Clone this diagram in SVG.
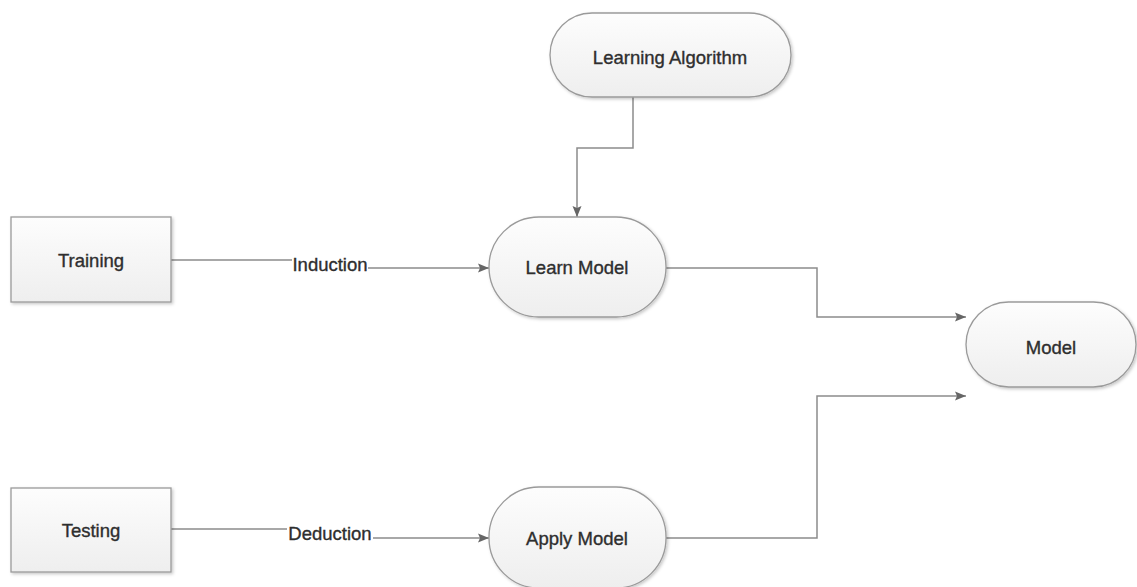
<svg xmlns="http://www.w3.org/2000/svg" width="1137" height="587" viewBox="0 0 1137 587">
  <defs>
    <linearGradient id="nodeFill" x1="0" y1="0" x2="0" y2="1">
      <stop offset="0" stop-color="#fdfdfd"/>
      <stop offset="1" stop-color="#eeeeee"/>
    </linearGradient>
    <filter id="shade" x="-10%" y="-10%" width="125%" height="130%">
      <feDropShadow dx="1.5" dy="1.5" stdDeviation="1.5" flood-color="#000" flood-opacity="0.22"/>
    </filter>
    <marker id="arrow" viewBox="0 0 11 10" refX="11" refY="5" markerWidth="11" markerHeight="10" markerUnits="userSpaceOnUse" orient="auto">
      <path d="M0,0.5 L11,5 L0,9.5 L2,5 Z" fill="#666666"/>
    </marker>
    <style>
      .node { fill: url(#nodeFill); stroke: #9a9a9a; stroke-width: 1.3; filter: url(#shade); }
      .label, .edge-label { font-family: "Liberation Sans", Arial, sans-serif; font-size: 18.5px; fill: #2e2e2e; stroke: #2e2e2e; stroke-width: 0.35; text-anchor: middle; dominant-baseline: central; }
      .edge { fill: none; stroke: #8c8c8c; stroke-width: 1.5; }
    </style>
  </defs>

  <rect width="1137" height="587" fill="#ffffff"/>

  <!-- connectors -->
  <g id="connectors">
    <path class="edge" d="M171,260 H292 M368,268 H489" marker-end="url(#arrow)"/>
    <path class="edge" d="M171,529 H287 M373,538 H489" marker-end="url(#arrow)"/>
    <path class="edge" d="M633,97 V148 H577 V217" marker-end="url(#arrow)"/>
    <path class="edge" d="M666,268 H817 V317 H966" marker-end="url(#arrow)"/>
    <path class="edge" d="M666,538 H817 V396 H966" marker-end="url(#arrow)"/>
    <text class="edge-label" x="330" y="264">Induction</text>
    <text class="edge-label" x="330" y="533">Deduction</text>
  </g>

  <g id="learning-algorithm">
    <rect class="node" x="550" y="13" width="241" height="84" rx="42" ry="42"/>
    <text class="label" x="670" y="57">Learning Algorithm</text>
  </g>

  <g id="training">
    <rect class="node" x="11" y="217" width="160" height="85"/>
    <text class="label" x="91" y="260">Training</text>
  </g>

  <g id="learn-model">
    <rect class="node" x="489" y="217" width="177" height="100" rx="50" ry="50"/>
    <text class="label" x="577" y="267">Learn Model</text>
  </g>

  <g id="model">
    <rect class="node" x="966" y="302" width="170" height="85" rx="42.5" ry="42.5"/>
    <text class="label" x="1051" y="347">Model</text>
  </g>

  <g id="testing">
    <rect class="node" x="11" y="488" width="160" height="84"/>
    <text class="label" x="91" y="530">Testing</text>
  </g>

  <g id="apply-model">
    <rect class="node" x="489" y="487" width="177" height="101" rx="50" ry="50"/>
    <text class="label" x="577" y="538">Apply Model</text>
  </g>
</svg>
